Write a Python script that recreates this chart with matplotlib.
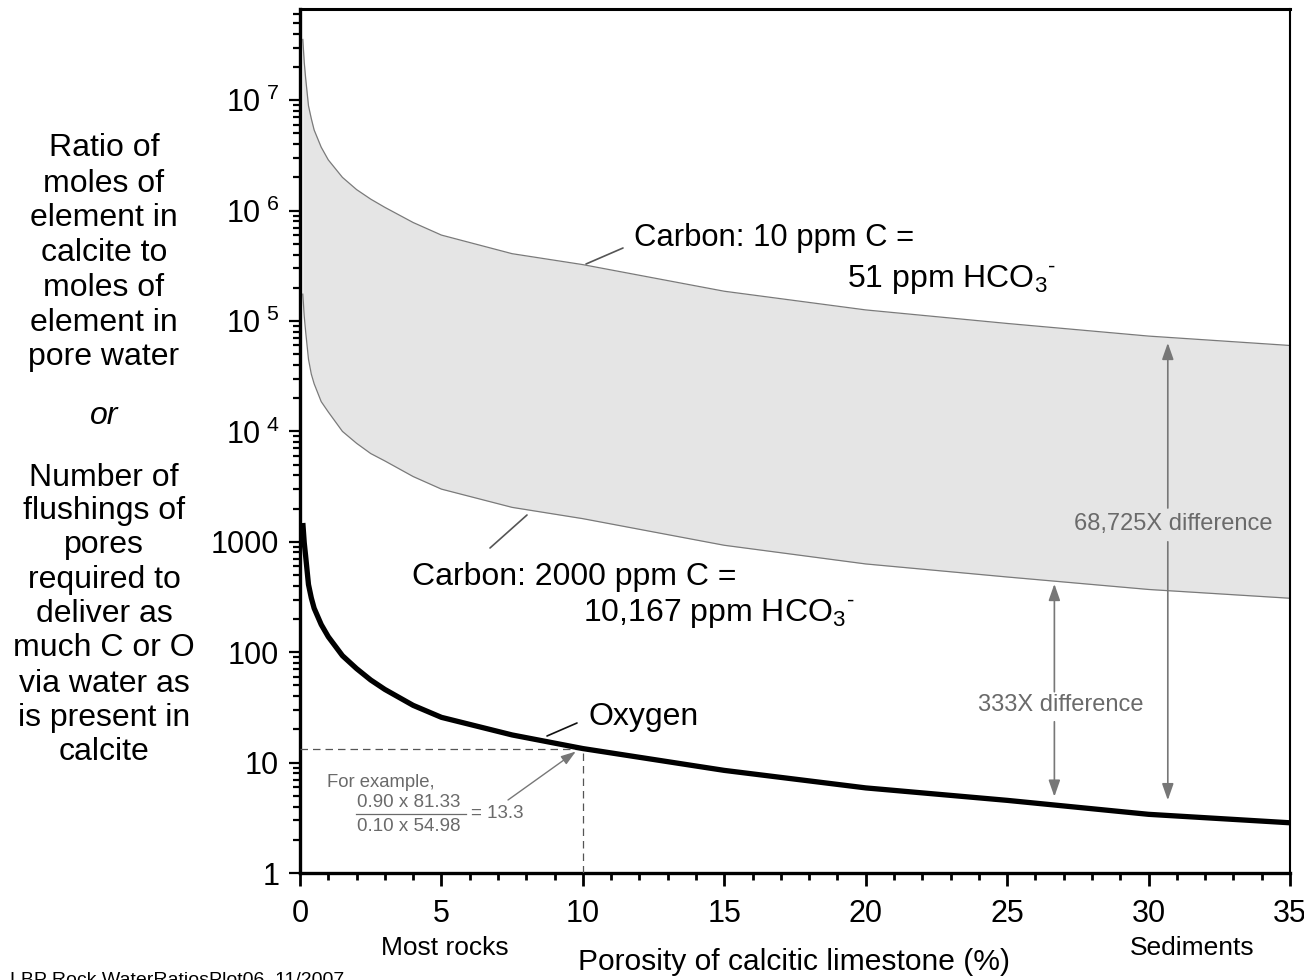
import numpy as np
import matplotlib
matplotlib.use('Agg')
import matplotlib.pyplot as plt
from matplotlib.ticker import FixedLocator, FuncFormatter, NullFormatter, MultipleLocator

plt.rcParams['font.family'] = ['Liberation Sans', 'DejaVu Sans']
plt.rcParams['mathtext.fontset'] = 'custom'
plt.rcParams['mathtext.rm'] = 'Liberation Sans'
plt.rcParams['mathtext.it'] = 'Liberation Sans:italic'

# ---------------- data ----------------
porosity = [0.1, 0.15, 0.2, 0.3, 0.4, 0.5, 0.75, 1, 1.5, 2, 2.5, 3, 4, 5, 7.5, 10,
            15, 20, 25, 30, 35]
carbon_10ppm = [3.55e7, 2.2e7, 1.58e7, 8.9e6, 6.8e6, 5.37e6, 3.75e6, 2.88e6, 2.0e6,
                1.55e6, 1.27e6, 1.07e6, 7.8e5, 6.0e5, 4.07e5, 3.24e5, 1.86e5,
                1.26e5, 9.5e4, 7.3e4, 6.0e4]
carbon_2000ppm = [1.75e5, 1.1e5, 8.0e4, 4.5e4, 3.3e4, 2.7e4, 1.86e4, 1.5e4, 1.0e4,
                  7.8e3, 6.3e3, 5.4e3, 3.9e3, 3.0e3, 2.05e3, 1.62e3, 9.3e2, 6.3e2,
                  4.8e2, 3.7e2, 3.08e2]
oxygen = [1480, 980, 740, 410, 310, 250, 178, 138, 93, 71, 56, 46, 33, 25.7, 17.8,
          13.4, 8.5, 5.9, 4.55, 3.4, 2.85]
example_porosity = 10
example_ratio = 13.3
diff333_porosity = 26.67
diff68725_porosity = 30.68
y_major = [1, 10, 100, 1000, 1e4, 1e5, 1e6, 1e7]
x_major = [0, 5, 10, 15, 20, 25, 30, 35]

W, H = 1304, 980
fig = plt.figure(figsize=(W / 100, H / 100), dpi=100)
ax = fig.add_axes([300 / W, 1 - 873 / H, 990 / W, 864 / H])

def fx(x):
    return x / W

def fy(y):
    return 1 - y / H

ax.fill_between(porosity, carbon_2000ppm, carbon_10ppm, color='#e5e5e5', lw=0, zorder=1)
ax.plot(porosity, carbon_10ppm, color='#7a7a7a', lw=0.9, zorder=2)
ax.plot(porosity, carbon_2000ppm, color='#7a7a7a', lw=0.9, zorder=2)
ax.plot(porosity, oxygen, color='black', lw=3.8, zorder=4, solid_capstyle='butt',
        solid_joinstyle='round')

ax.set_yscale('log')
ax.set_xlim(0, 35)
ax.set_ylim(1, 10 ** 7.826)

# example dashed guides
ax.plot([0, example_porosity], [example_ratio, example_ratio], color='#555555',
        lw=0.9, dashes=(6, 4), zorder=3)
ax.plot([example_porosity, example_porosity], [1, example_ratio], color='#555555',
        lw=0.9, dashes=(6, 4), zorder=3)

# ticks
ax.yaxis.set_major_locator(FixedLocator(y_major))
minor = [m * 10 ** e for e in range(0, 8) for m in range(2, 10) if m * 10 ** e < 6.7e7]
ax.yaxis.set_minor_locator(FixedLocator(minor))
ax.yaxis.set_minor_formatter(NullFormatter())

def yfmt(v, pos):
    if v >= 1e4:
        return r'$\mathregular{10^{\ %d}}$' % int(round(np.log10(v)))
    return '%d' % int(round(v))

ax.yaxis.set_major_formatter(FuncFormatter(yfmt))
ax.xaxis.set_major_locator(FixedLocator(x_major))
ax.xaxis.set_minor_locator(MultipleLocator(1))
ax.xaxis.set_major_formatter(FuncFormatter(lambda v, p: '%d' % v))

ax.tick_params(axis='y', which='major', direction='out', length=8, width=1.6,
               labelsize=22, pad=7)
ax.tick_params(axis='y', which='minor', direction='out', length=5, width=1.6)
ax.tick_params(axis='x', which='major', direction='out', length=9, width=2,
               labelsize=22, pad=10)
ax.tick_params(axis='x', which='minor', direction='out', length=5, width=2)

ax.spines['left'].set_linewidth(2.4)
ax.spines['bottom'].set_linewidth(2.4)
ax.spines['top'].set_linewidth(2.2)
ax.spines['right'].set_linewidth(1.5)

# ---------------- curve labels ----------------
fs = 23
fig.text(fx(634), fy(238), 'Carbon: 10 ppm C =', fontsize=22.3, va='center', ha='left')
fig.text(fx(412), fy(577), 'Carbon: 2000 ppm C =', fontsize=fs, va='center', ha='left')
fig.text(fx(588), fy(717), 'Oxygen', fontsize=fs, va='center', ha='left')
t51 = fig.text(fx(847), fy(280), r'51 ppm HCO$\mathregular{_3}$', fontsize=fs,
               va='center', ha='left')
t10 = fig.text(fx(583), fy(614), r'10,167 ppm HCO$\mathregular{_3}$', fontsize=fs,
               va='center', ha='left')
fig.canvas.draw()
renderer = fig.canvas.get_renderer()
for t, ytop in ((t51, 280), (t10, 614)):
    bb = t.get_window_extent(renderer)
    fig.text((bb.x1 + 1) / W, fy(ytop - 13), '-', fontsize=16, va='center', ha='left')

def leader(p0, p1, color):
    ax.annotate('', xy=(p0[0], H - p0[1]), xycoords='figure pixels',
                xytext=(p1[0], H - p1[1]), textcoords='figure pixels',
                arrowprops=dict(arrowstyle='-', color=color, lw=1.2,
                                shrinkA=0, shrinkB=0))

leader((586, 264), (623, 248), '#555555')
leader((527, 515), (490, 548), '#555555')
leader((547, 736), (577, 723), '#111111')

# ---------------- example annotation ----------------
gray = '#6a6a6a'
fig.text(fx(327), fy(782), 'For example,', fontsize=13.3, color=gray, va='center')
fig.text(fx(357), fy(802), '0.90 x 81.33', fontsize=13.5, color=gray, va='center')
fig.text(fx(357), fy(826), '0.10 x 54.98', fontsize=13.5, color=gray, va='center')
fig.text(fx(471), fy(814), '= 13.3', fontsize=13.5, color=gray, va='center')
fig.add_artist(plt.Line2D([fx(356), fx(466)], [fy(814), fy(814)], color=gray, lw=0.9))
ax.annotate('', xy=(example_porosity - 0.17, example_ratio * 0.98),
            xytext=(508, H - 800), textcoords='figure pixels',
            arrowprops=dict(arrowstyle='-|>,head_length=0.9,head_width=0.3',
                            color='#777777', lw=1.0, shrinkA=0, shrinkB=2))

# ---------------- difference arrows ----------------
def at(series, x):
    return 10 ** np.interp(x, porosity, np.log10(series))

arrow_kw = dict(arrowstyle='-|>,head_length=1.0,head_width=0.35', color='#777777',
                lw=1.2, shrinkA=0)
# 333X
ax.annotate('', xy=(diff333_porosity, at(carbon_2000ppm, diff333_porosity)),
            xytext=(diff333_porosity, 10 ** 1.642),
            arrowprops=dict(arrow_kw, shrinkB=2))
ax.annotate('', xy=(diff333_porosity, at(oxygen, diff333_porosity)),
            xytext=(diff333_porosity, 10 ** 1.37),
            arrowprops=dict(arrow_kw, shrinkB=6))
fig.text(fx(1061), fy(705), '333X difference', fontsize=17, color=gray,
         ha='center', va='center')
# 68,725X
ax.annotate('', xy=(diff68725_porosity, at(carbon_10ppm, diff68725_porosity)),
            xytext=(diff68725_porosity, 10 ** 3.306),
            arrowprops=dict(arrow_kw, shrinkB=4))
ax.annotate('', xy=(diff68725_porosity, at(oxygen, diff68725_porosity)),
            xytext=(diff68725_porosity, 10 ** 3.0),
            arrowprops=dict(arrow_kw, shrinkB=11))
fig.text(fx(1173), fy(524), '68,725X difference', fontsize=17, color=gray,
         ha='center', va='center')

# ---------------- axis texts ----------------
fig.text(fx(794), fy(962), 'Porosity of calcitic limestone (%)', fontsize=21.6,
         ha='center', va='center')
fig.text(fx(445), fy(948), 'Most rocks', fontsize=19, ha='center', va='center')
fig.text(fx(1192), fy(948), 'Sediments', fontsize=19, ha='center', va='center')
fig.text(fx(10), fy(972), 'LBP Rock WaterRatiosPlot06  11/2007', fontsize=14,
         ha='left', va='top')

left_lines = [
    ('Ratio of', 148), ('moles of', 184), ('element in', 218), ('calcite to', 253),
    ('moles of', 288), ('element in', 323), ('pore water', 357),
    ('Number of', 478), ('flushings of', 511), ('pores', 545), ('required to', 580),
    ('deliver as', 614), ('much C or O', 648), ('via water as', 684),
    ('is present in', 718), ('calcite', 752),
]
for txt, yy in left_lines:
    fig.text(fx(104), fy(yy), txt, fontsize=23, ha='center', va='center')
fig.text(fx(104), fy(416), 'or', fontsize=23, ha='center', va='center', style='italic')

fig.savefig('out.png', dpi=100)
